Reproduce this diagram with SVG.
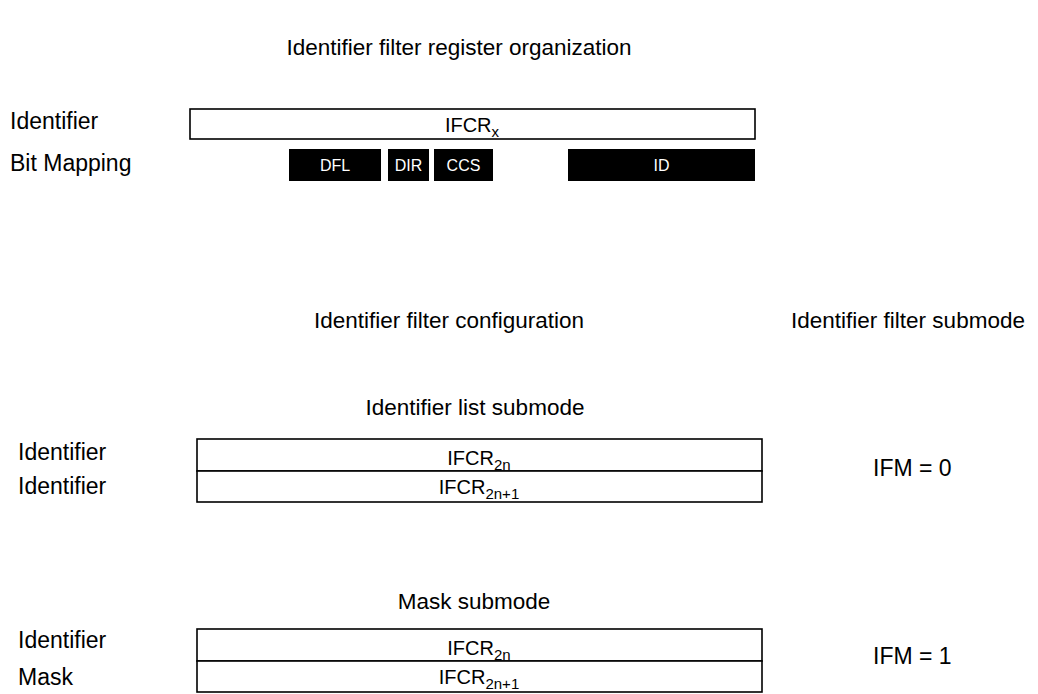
<svg xmlns="http://www.w3.org/2000/svg" width="1038" height="694" viewBox="0 0 1038 694">
<style>
text{font-family:"Liberation Sans",Arial,sans-serif;fill:#000}
.t{font-size:23px}
.c{font-size:22.5px;text-anchor:middle}
.r{font-size:20px;text-anchor:middle}
.s{font-size:15px}
.box{fill:#fff;stroke:#000;stroke-width:1.6}
.blk{fill:#000}
.w{fill:#fff;font-size:16px;text-anchor:middle}
</style>
<rect width="1038" height="694" fill="#fff"/>
<text class="c" x="459" y="55">Identifier filter register organization</text>
<g id="reg">
<text class="t" x="10" y="129">Identifier</text>
<text class="t" x="10" y="171">Bit Mapping</text>
<rect class="box" x="190" y="109" width="565" height="30"/>
<text class="r" x="472" y="132">IFCR<tspan class="s" dy="5">x</tspan></text>
<rect class="blk" x="289" y="149" width="92" height="32"/>
<text class="w" x="335" y="171">DFL</text>
<rect class="blk" x="388" y="149" width="41" height="32"/>
<text class="w" x="408.5" y="171">DIR</text>
<rect class="blk" x="434" y="149" width="59" height="32"/>
<text class="w" x="463.5" y="171">CCS</text>
<rect class="blk" x="568" y="149" width="187" height="32"/>
<text class="w" x="661.5" y="171">ID</text>
</g>
<text class="c" x="449" y="328">Identifier filter configuration</text>
<text class="c" x="908" y="328">Identifier filter submode</text>
<g id="list">
<text class="c" x="475" y="415">Identifier list submode</text>
<text class="t" x="18" y="460">Identifier</text>
<text class="t" x="18" y="494">Identifier</text>
<rect class="box" x="197" y="439" width="565" height="32"/>
<rect class="box" x="197" y="471" width="565" height="31"/>
<text class="r" x="479" y="465">IFCR<tspan class="s" dy="5">2n</tspan></text>
<text class="r" x="479" y="494">IFCR<tspan class="s" dy="5">2n+1</tspan></text>
<text class="t" x="873" y="476">IFM = 0</text>
</g>
<g id="mask">
<text class="c" x="474" y="609">Mask submode</text>
<text class="t" x="18" y="648">Identifier</text>
<text class="t" x="18" y="685">Mask</text>
<rect class="box" x="197" y="629" width="565" height="32"/>
<rect class="box" x="197" y="661" width="565" height="31"/>
<text class="r" x="479" y="655">IFCR<tspan class="s" dy="5">2n</tspan></text>
<text class="r" x="479" y="684">IFCR<tspan class="s" dy="5">2n+1</tspan></text>
<text class="t" x="873" y="664">IFM = 1</text>
</g>
<g id="connectors"></g>
</svg>
